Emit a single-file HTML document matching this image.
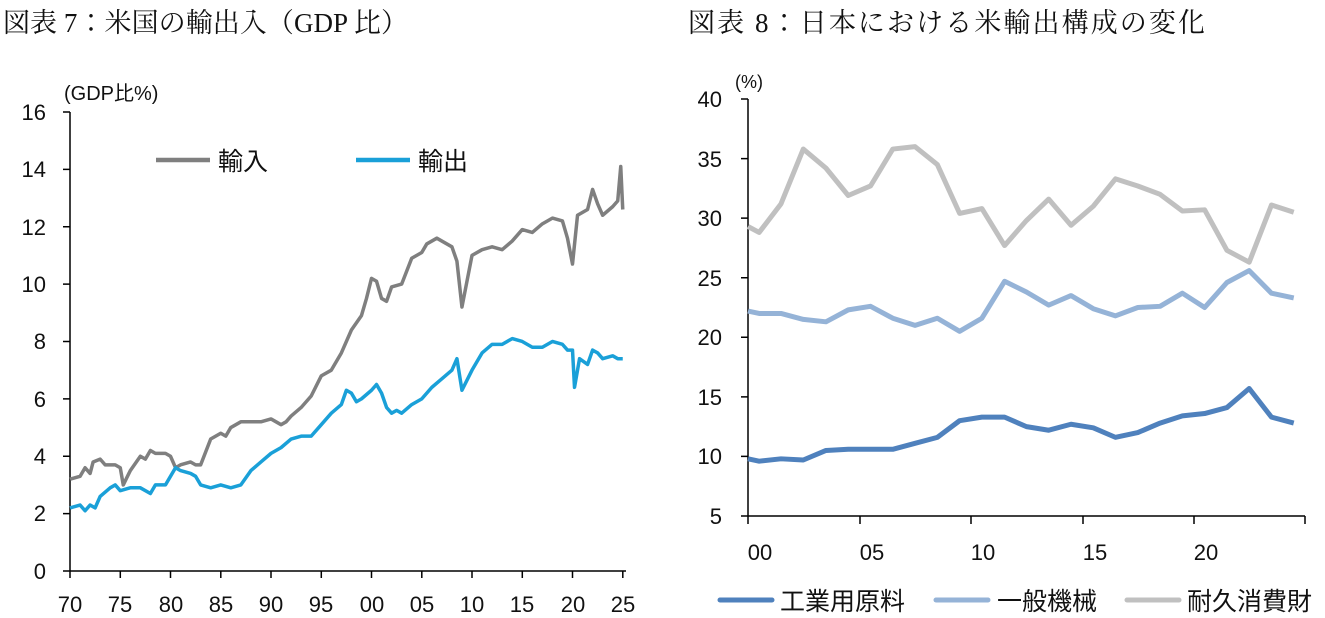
<!DOCTYPE html>
<html><head><meta charset="utf-8"><style>
body{margin:0;background:#fff;width:1325px;height:618px;overflow:hidden}
svg{display:block}
.t{font-family:"Liberation Serif","Noto Serif CJK JP",serif;font-size:27px;fill:#111}
.k{font-family:"Liberation Sans","Noto Sans CJK JP",sans-serif;font-size:22px;fill:#111}
.l{font-family:"Liberation Sans","Noto Sans CJK JP",sans-serif;font-size:25px;fill:#111}
</style></head><body>
<svg width="1325" height="618" viewBox="0 0 1325 618">
<text class="t" x="3" y="32" textLength="405">図表 7：米国の輸出入（GDP 比）</text>
<text class="t" x="688" y="32" textLength="517">図表 8：日本における米輸出構成の変化</text>

<!-- Left chart -->
<text class="k" x="64" y="100" style="font-size:20px">(GDP比%)</text>
<g stroke="#000" stroke-width="1.5" fill="none">
<line x1="70" y1="112" x2="70" y2="571"/>
<line x1="70" y1="571" x2="626" y2="571"/>
<path d="M63 112h7M63 169.4h7M63 226.8h7M63 284.1h7M63 341.5h7M63 398.9h7M63 456.3h7M63 513.6h7M63 571h7"/>
<path d="M70 571v7M120.3 571v7M170.5 571v7M220.8 571v7M271 571v7M321.3 571v7M371.5 571v7M421.8 571v7M472 571v7M522.3 571v7M572.5 571v7M622.8 571v7"/>
</g>
<g class="k" text-anchor="end">
<text x="46" y="120">16</text><text x="46" y="177">14</text><text x="46" y="235">12</text><text x="46" y="292">10</text><text x="46" y="349">8</text><text x="46" y="407">6</text><text x="46" y="464">4</text><text x="46" y="521">2</text><text x="46" y="579">0</text>
</g>
<g class="k" text-anchor="middle">
<text x="70" y="612">70</text><text x="120" y="612">75</text><text x="171" y="612">80</text><text x="221" y="612">85</text><text x="271" y="612">90</text><text x="321" y="612">95</text><text x="372" y="612">00</text><text x="422" y="612">05</text><text x="472" y="612">10</text><text x="522" y="612">15</text><text x="573" y="612">20</text><text x="623" y="612">25</text>
</g>
<g transform="translate(70,571) scale(10.05,-28.69)" fill="none" stroke-linejoin="round">
<polyline vector-effect="non-scaling-stroke" stroke="#7f7f7f" stroke-width="3.5" points="0,3.2 1,3.3 1.5,3.6 2,3.4 2.3,3.8 3,3.9 3.5,3.7 4.5,3.7 5,3.6 5.3,3 6,3.5 7,4 7.5,3.9 8,4.2 8.5,4.1 9.5,4.1 10,4 10.5,3.6 11,3.7 12,3.8 12.5,3.7 13,3.7 14,4.6 15,4.8 15.5,4.7 16,5 17,5.2 18,5.2 19,5.2 20,5.3 21,5.1 21.5,5.2 22,5.4 23,5.7 24,6.1 25,6.8 26,7 27,7.6 28,8.4 29,8.9 29.5,9.5 30,10.2 30.5,10.1 31,9.5 31.5,9.4 32,9.9 33,10 34,10.9 35,11.1 35.5,11.4 36.5,11.6 37,11.5 38,11.3 38.5,10.8 39,9.2 40,11 41,11.2 42,11.3 43,11.2 44,11.5 45,11.9 46,11.8 47,12.1 47.5,12.2 48,12.3 49,12.2 49.5,11.6 50,10.7 50.5,12.4 51,12.5 51.5,12.6 52,13.3 52.5,12.8 53,12.4 54,12.7 54.5,12.9 54.8,14.1 55,12.6"/>
<polyline vector-effect="non-scaling-stroke" stroke="#1aa0d8" stroke-width="3.5" points="0,2.2 1,2.3 1.5,2.1 2,2.3 2.5,2.2 3,2.6 4,2.9 4.5,3 5,2.8 6,2.9 7,2.9 8,2.7 8.5,3 9.5,3 10.5,3.6 11,3.5 12,3.4 12.5,3.3 13,3 14,2.9 15,3 16,2.9 17,3 18,3.5 19,3.8 20,4.1 21,4.3 22,4.6 23,4.7 24,4.7 25,5.1 26,5.5 27,5.8 27.5,6.3 28,6.2 28.5,5.9 29,6 30,6.3 30.5,6.5 31,6.2 31.5,5.7 32,5.5 32.5,5.6 33,5.5 34,5.8 35,6 36,6.4 37,6.7 38,7 38.5,7.4 39,6.3 40,7 41,7.6 42,7.9 43,7.9 44,8.1 45,8 46,7.8 47,7.8 48,8 49,7.9 49.5,7.7 50,7.7 50.2,6.4 50.7,7.4 51.5,7.2 52,7.7 52.5,7.6 53,7.4 54,7.5 54.5,7.4 55,7.4"/>
</g>
<line x1="156" y1="160" x2="210" y2="160" stroke="#7f7f7f" stroke-width="4.5"/>
<text class="l" x="218" y="170">輸入</text>
<line x1="356" y1="160" x2="410" y2="160" stroke="#1aa0d8" stroke-width="4.5"/>
<text class="l" x="418" y="170">輸出</text>

<!-- Right chart -->
<text class="k" x="735" y="88" style="font-size:18px">(%)</text>
<g stroke="#000" stroke-width="1.5" fill="none">
<line x1="748" y1="99" x2="748" y2="516"/>
<line x1="748" y1="516" x2="1305" y2="516"/>
<path d="M741 99h7M741 158.6h7M741 218.1h7M741 277.7h7M741 337.3h7M741 396.9h7M741 456.4h7M741 516h7"/>
<path d="M748 516v8M860 516v8M971 516v8M1083 516v8M1194 516v8M1305 516v8"/>
</g>
<g class="k" text-anchor="end">
<text x="722" y="107">40</text><text x="722" y="167">35</text><text x="722" y="226">30</text><text x="722" y="286">25</text><text x="722" y="345">20</text><text x="722" y="405">15</text><text x="722" y="464">10</text><text x="722" y="524">5</text>
</g>
<g class="k" text-anchor="middle">
<text x="760" y="560">00</text><text x="872" y="560">05</text><text x="983" y="560">10</text><text x="1095" y="560">15</text><text x="1206" y="560">20</text>
</g>
<g transform="translate(748,516) scale(0.4125,-11.914) translate(-168,-5)" fill="none" stroke-linejoin="round">
<polyline vector-effect="non-scaling-stroke" stroke="#c0c0c0" stroke-width="5" points="168,29.3 195,28.8 248,31.2 302,35.8 357,34.2 411,31.9 465,32.7 519,35.8 573,36 627,34.5 681,30.4 735,30.8 790,27.7 843,29.8 897,31.6 951,29.4 1005,31 1059,33.3 1113,32.7 1167,32 1221,30.6 1275,30.7 1329,27.3 1383,26.3 1437,31.1 1491,30.5"/>
<polyline vector-effect="non-scaling-stroke" stroke="#95b3d7" stroke-width="5" points="168,22.2 195,22 248,22 302,21.5 357,21.3 411,22.3 465,22.6 519,21.6 573,21 627,21.6 681,20.5 735,21.6 790,24.7 843,23.8 897,22.7 951,23.5 1005,22.4 1059,21.8 1113,22.5 1167,22.6 1221,23.7 1275,22.5 1329,24.6 1383,25.6 1437,23.7 1491,23.3"/>
<polyline vector-effect="non-scaling-stroke" stroke="#4f81bd" stroke-width="5" points="168,9.8 195,9.6 248,9.8 302,9.7 357,10.5 411,10.6 465,10.6 519,10.6 573,11.1 627,11.6 681,13 735,13.3 790,13.3 843,12.5 897,12.2 951,12.7 1005,12.4 1059,11.6 1113,12 1167,12.8 1221,13.4 1275,13.6 1329,14.1 1383,15.7 1437,13.3 1491,12.8"/>
</g>
<line x1="720" y1="600" x2="772" y2="600" stroke="#4f81bd" stroke-width="5" stroke-linecap="round"/>
<text class="l" x="780" y="610">工業用原料</text>
<line x1="936" y1="600" x2="988" y2="600" stroke="#95b3d7" stroke-width="5" stroke-linecap="round"/>
<text class="l" x="997" y="610">一般機械</text>
<line x1="1127" y1="600" x2="1179" y2="600" stroke="#c0c0c0" stroke-width="5" stroke-linecap="round"/>
<text class="l" x="1187" y="610">耐久消費財</text>
</svg>
</body></html>
